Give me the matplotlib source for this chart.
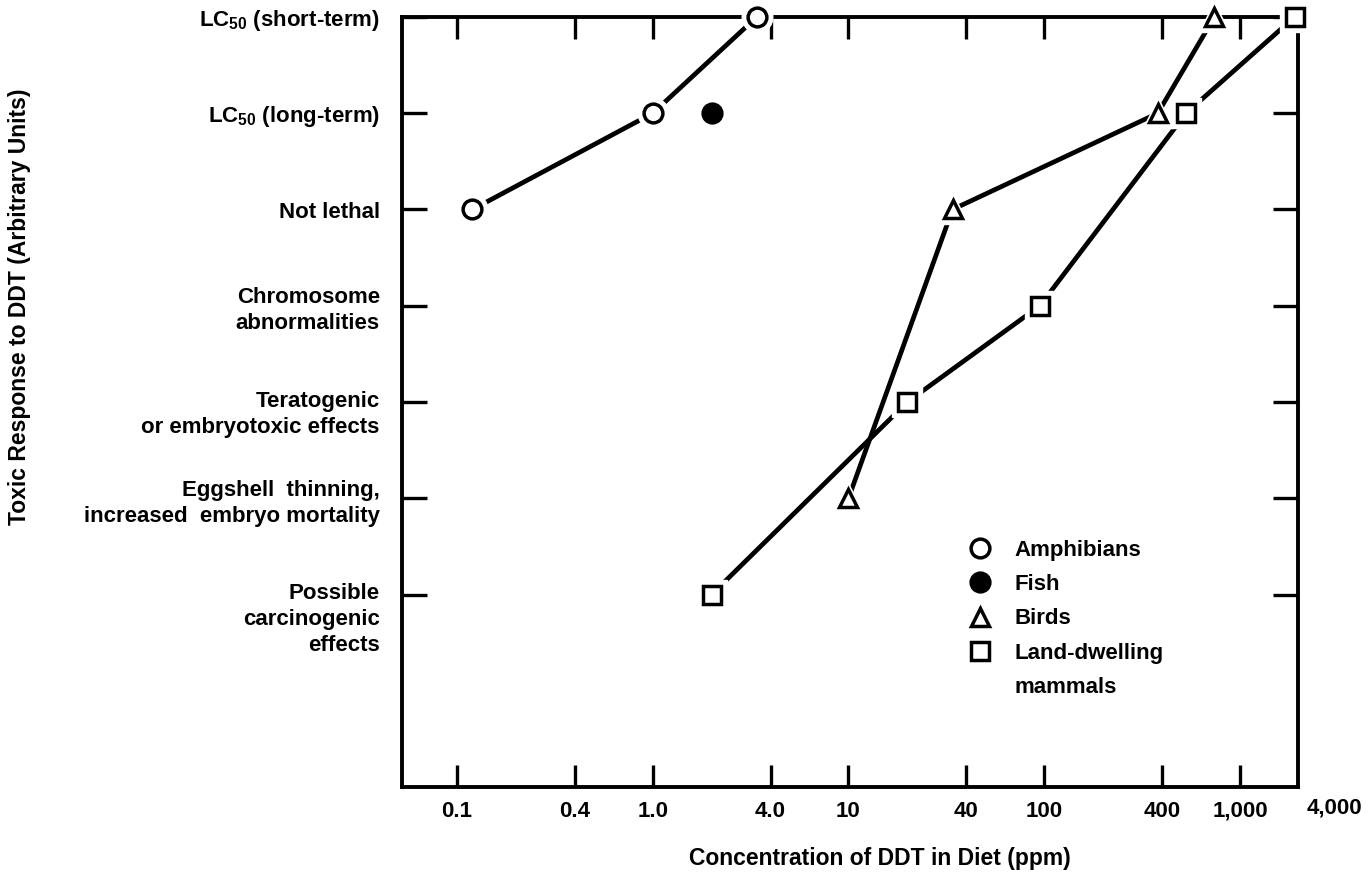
import matplotlib
matplotlib.use("Agg")
import matplotlib.pyplot as plt
import matplotlib.transforms as mtransforms
from matplotlib.lines import Line2D

plt.rcParams['font.family'] = ['Liberation Sans', 'DejaVu Sans']
plt.rcParams['font.weight'] = 'bold'
plt.rcParams['mathtext.default'] = 'regular'

# response levels (arbitrary units), bottom to top
levels = [1, 2, 3, 4, 5, 6, 7]
level_labels = [
    "Possible\ncarcinogenic\neffects",
    "Eggshell  thinning,\nincreased  embryo mortality",
    "Teratogenic\nor embryotoxic effects",
    "Chromosome\nabnormalities",
    "Not lethal",
    "LC$_{50}$ (long-term)",
    "LC$_{50}$ (short-term)",
]

# x ticks (ppm)
xticks = [0.1, 0.4, 1.0, 4.0, 10, 40, 100, 400, 1000]
xtick_labels = ["0.1", "0.4", "1.0", "4.0", "10", "40", "100", "400", "1,000"]

# series
amph_x = [0.12, 1.0, 3.4]
amph_y = [5, 6, 7]
fish_x = [2.0]
fish_y = [6]
bird_x = [10, 34, 380, 740]
bird_y = [2, 5, 6, 7]
mamm_x = [2.0, 20, 95, 530, 1900]
mamm_y = [1, 3, 4, 6, 7]

FS = 16

fig = plt.figure(figsize=(13.69, 8.77), dpi=100)
ax = fig.add_axes([402/1369, 90/877, 896/1369, 770/877])
ax.set_xscale('log')
ax.set_xlim(0.0524, 1978)
ax.set_ylim(-1, 7)

lw = 3.4
ms = 13.5
mew = 2.5
halo = 22

series = [
    (amph_x, amph_y, 'o', 'white', True),
    (fish_x, fish_y, 'o', 'black', False),
    (bird_x, bird_y, '^', 'white', True),
    (mamm_x, mamm_y, 's', 'white', True),
]
for xs, ys, mk, fc, connect in series:
    if connect:
        ax.plot(xs, ys, color='black', lw=lw, zorder=2, clip_on=False)
        # white halo leaves a small gap between line and marker
        ax.plot(xs, ys, ls='none', marker=mk, ms=halo, mfc='white', mec='white',
                zorder=3, clip_on=False)
    ax.plot(xs, ys, ls='none', marker=mk, ms=ms, mfc=fc, mec='black', mew=mew,
            zorder=4, clip_on=False)

# axes styling
for sp in ax.spines.values():
    sp.set_linewidth(2.8)
ax.set_xticks(xticks)
ax.set_xticklabels(xtick_labels)
ax.xaxis.set_minor_locator(matplotlib.ticker.NullLocator())
ax.set_yticks(levels)
ax.set_yticklabels(level_labels, linespacing=1.3)
ax.tick_params(axis='x', which='major', direction='in', length=16, width=2.4,
               top=True, labelsize=FS, pad=10)
ax.tick_params(axis='y', which='major', direction='in', length=18, width=2.4,
               right=True, labelsize=FS, pad=16)
for lab in ax.get_yticklabels() + ax.get_xticklabels():
    lab.set_fontweight('bold')

# some labels start at the tick rather than centre on it
ylabs = ax.get_yticklabels()
shift = mtransforms.ScaledTranslation(0, 8/72, fig.dpi_scale_trans)
for i in (0, 2):
    ylabs[i].set_va('top')
    ylabs[i].set_transform(ylabs[i].get_transform() + shift)

ax.text(1.041, -0.027, "4,000", transform=ax.transAxes, ha='center', va='center',
        fontsize=FS, fontweight='bold')

fig.text(880/1369, 1 - 858/877, "Concentration of DDT in Diet (ppm)", ha='center',
         va='center', fontsize=FS + 0.5, fontweight='bold')
fig.text(20/1369, 1 - 307/877, "Toxic Response to DDT (Arbitrary Units)",
         rotation=90, ha='center', va='center', fontsize=FS + 0.5, fontweight='bold')

handles = [
    Line2D([], [], ls='none', marker='o', ms=ms, mfc='white', mec='black', mew=mew),
    Line2D([], [], ls='none', marker='o', ms=ms, mfc='black', mec='black', mew=mew),
    Line2D([], [], ls='none', marker='^', ms=ms, mfc='white', mec='black', mew=mew),
    Line2D([], [], ls='none', marker='s', ms=ms, mfc='white', mec='black', mew=mew),
    Line2D([], [], ls='none', marker=None),
]
names = ["Amphibians", "Fish", "Birds", "Land-dwelling", "mammals"]
ax.legend(handles, names, loc='upper left', bbox_to_anchor=(0.6335, 0.321),
          frameon=False, handlelength=0.9, handletextpad=1.1, borderpad=0,
          borderaxespad=0, labelspacing=0.6,
          prop={'size': FS, 'weight': 'bold'})

fig.savefig("out.png", dpi=100)
